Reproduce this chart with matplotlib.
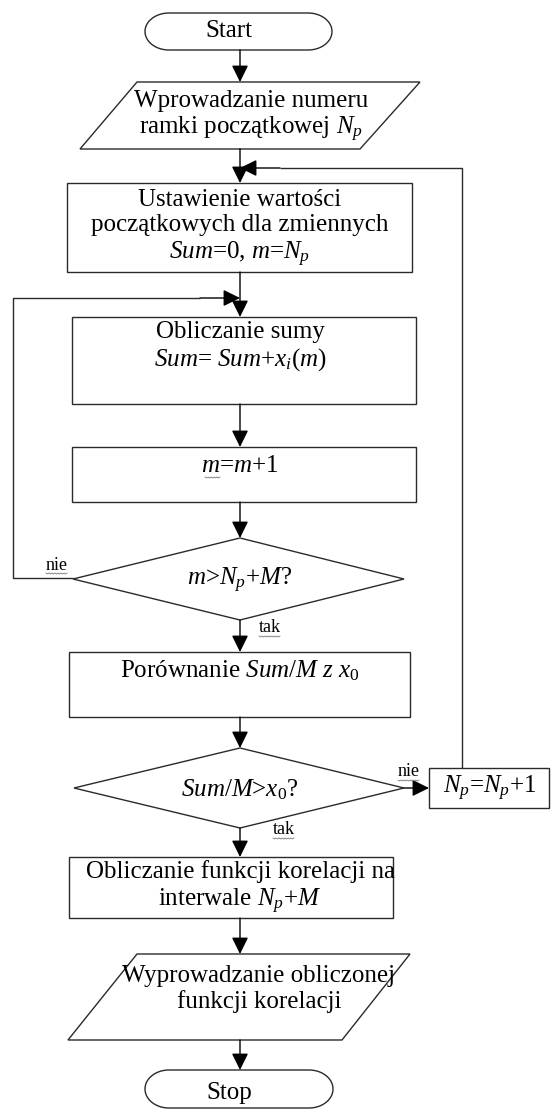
import matplotlib
matplotlib.use("Agg")
import numpy as np
import matplotlib.pyplot as plt
from matplotlib.patches import Polygon, Rectangle, FancyArrowPatch

plt.rcParams["font.family"] = ["Liberation Serif", "DejaVu Serif"]
plt.rcParams["mathtext.fontset"] = "custom"
plt.rcParams["mathtext.rm"] = "Liberation Serif"
plt.rcParams["mathtext.it"] = "Liberation Serif:italic"

# node texts, top to bottom
start_label = "Start"
input_label = "Wprowadzanie numeru\nramki początkowej $N_p$"
init_label = "Ustawienie wartości\npoczątkowych dla zmiennych\n$Sum$=0, $m$=$N_p$"
sum_label = "Obliczanie sumy\n$Sum$= $Sum$+$x_i(m)$"
inc_label = "$m$=$m$+1"
cond1_label = "$m$>$N_p$+$M$?"
compare_label = "Porównanie $Sum/M$ $z$ $x_0$"
cond2_label = "$Sum/M$>$x_0$?"
next_label = "$N_p$=$N_p$+1"
corr_label = "Obliczanie funkcji korelacji na\ninterwale $N_p$+$M$"
output_label = "Wyprowadzanie obliczonej\nfunkcji korelacji"
stop_label = "Stop"
branch_labels = ["nie", "tak", "nie", "tak"]

W, H = 551, 1110
FS = 18
LINE = "#2a2a2a"
CX = 240

fig = plt.figure(figsize=(W / 100, H / 100), dpi=100)
ax = fig.add_axes([0, 0, 1, 1])
ax.set_xlim(0, W)
ax.set_ylim(H, 0)
ax.axis("off")


def rect(x0, y0, x1, y1):
    ax.add_patch(Rectangle((x0, y0), x1 - x0, y1 - y0, fill=False, ec=LINE, lw=1.0))


def terminal(x0, y0, x1, y1, rx=24):
    # stadium with elliptical ends
    ry = (y1 - y0) / 2
    yc = (y0 + y1) / 2
    t = np.linspace(-np.pi / 2, np.pi / 2, 40)
    right = np.column_stack([x1 - rx + rx * np.cos(t), yc + ry * np.sin(t)])
    left = np.column_stack([x0 + rx - rx * np.cos(t), yc - ry * np.sin(t)])
    ax.add_patch(Polygon(np.vstack([right, left]), closed=True, fill=False, ec=LINE, lw=1.0))


def para(tl, tr, bl, br, y0, y1):
    ax.add_patch(Polygon([(tl, y0), (tr, y0), (br, y1), (bl, y1)], closed=True,
                         fill=False, ec=LINE, lw=1.0))


def diamond(cx, y0, y1, xl, xr):
    ym = (y0 + y1) / 2
    ax.add_patch(Polygon([(cx, y0), (xr, ym), (cx, y1), (xl, ym)], closed=True,
                         fill=False, ec=LINE, lw=1.0))


def arrow(p0, p1):
    ax.add_patch(FancyArrowPatch(p0, p1, arrowstyle="-|>,head_length=0.85,head_width=0.42",
                                 mutation_scale=12, color="black", lw=1.0,
                                 shrinkA=0, shrinkB=0))


def line(xs, ys):
    ax.plot(xs, ys, color=LINE, lw=1.0, solid_capstyle="butt")


def label(x, y, s, size=FS):
    ax.text(x, y, s, ha="center", va="center", fontsize=size, linespacing=1.2,
            color="black")


def wavy(x0, x1, y):
    xs = np.arange(x0, x1 + 0.1, 1.5)
    ys = y + 1.0 * (np.arange(len(xs)) % 2)
    ax.plot(xs, ys, color="#777777", lw=0.6)


# shapes
terminal(145, 13, 332, 50)
para(137, 420, 80, 360, 82, 149)
rect(67, 183, 412, 272)
rect(72, 317, 416, 404)
rect(72, 447, 416, 502)
diamond(CX, 538, 620, 73, 404)
rect(69, 652, 410, 717)
diamond(CX, 748, 828, 74, 404)
rect(429, 768, 549, 808)
rect(69, 857, 393, 918)
para(137, 410, 68, 342, 954, 1040)
terminal(145, 1070, 333, 1108)

# main flow arrows
for y0, y1 in [(50, 82), (149, 183), (272, 317), (404, 447), (502, 538),
               (620, 652), (717, 748), (828, 857), (918, 954), (1040, 1070)]:
    arrow((CX, y0), (CX, y1))

# inner loop (nie)
line([73, 13, 13, 200], [578, 578, 298, 298])
arrow((200, 298), (CX, 298))

# outer loop (nie)
arrow((404, 788), (429, 788))
line([462, 462, 280], [768, 168, 168])
arrow((280, 168), (CX, 168))

# texts
label(229, 31, start_label)
label(251, 117, input_label)
label(CX, 229, init_label)
label(CX, 347, sum_label)
label(CX, 466, inc_label)
label(CX, 580, cond1_label)
label(CX, 671, compare_label)
label(CX, 790, cond2_label)
label(490, 788, next_label)
label(CX, 888, corr_label)
label(259, 989, output_label)
label(229, 1093, stop_label)

branch_pos = [(57, 565), (270, 628), (409, 772), (284, 830)]
for (bx, by), s in zip(branch_pos, branch_labels):
    label(bx, by, s, size=13)
    wavy(bx - 11, bx + 11, by + 8)
wavy(205, 221, 477)

fig.savefig("out.png", dpi=100)
